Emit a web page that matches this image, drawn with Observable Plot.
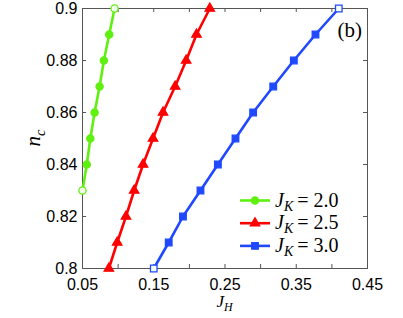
<!DOCTYPE html>
<html><head><meta charset="utf-8">
<script src="https://cdn.jsdelivr.net/npm/d3@7"></script>
<script src="https://cdn.jsdelivr.net/npm/@observablehq/plot@0.6"></script>
<style>body{margin:0;background:#fff} svg{display:block}</style>
</head><body><div id="chart"></div>
<script>
const seriesNames = ["2.0", "2.5", "3.0"];
const seriesColors = ["#5ff00f", "#ff0000", "#1f48ff"];
const seriesSymbols = ["circle", "triangle", "square"];
const nc20 = [0.83, 0.84, 0.85, 0.86, 0.87, 0.88, 0.89, 0.90];
const jh20 = [0.050, 0.056, 0.061, 0.067, 0.074, 0.080, 0.0875, 0.095];
const nc25 = [0.80, 0.81, 0.82, 0.83, 0.84, 0.85, 0.86, 0.87, 0.88, 0.89, 0.90];
const jh25 = [0.087, 0.0987, 0.111, 0.1225, 0.135, 0.149, 0.163, 0.180, 0.1955, 0.210, 0.2287];
const nc30 = [0.80, 0.81, 0.82, 0.83, 0.84, 0.85, 0.86, 0.87, 0.88, 0.89, 0.90];
const jh30 = [0.150, 0.171, 0.191, 0.2156, 0.240, 0.2647, 0.2895, 0.3177, 0.3466, 0.377, 0.4097];
const xTickLabels = [0.05, 0.15, 0.25, 0.35, 0.45];
const xTicks = [0.05, 0.10, 0.15, 0.20, 0.25, 0.30, 0.35, 0.40, 0.45];
const yTicks = [0.80, 0.82, 0.84, 0.86, 0.88, 0.90];
const xLabel = ["J", "H"];
const yLabel = ["n", "c"];
const panelLabel = "(b)";

const rows = [];
[[jh20, nc20], [jh25, nc25], [jh30, nc30]].forEach(([xs, ys], i) => {
  xs.forEach((x, j) => rows.push({jh: x, nc: ys[j], s: seriesNames[i], end: (j === 0 || j === xs.length - 1) && i !== 1}));
});

const W = 403, H = 318, mL = 82, mR = 36, mT = 8, mB = 50;
const innerW = W - mL - mR, innerH = H - mT - mB, tk = 4;
const axisColor = "#555";
const rSizes = {circle: 3.6, triangle: 3.5, square: 3.7};

const marks = [
  Plot.tickX(xTicks, {x: d => d, insetTop: innerH - tk, stroke: axisColor}),
  Plot.tickX(xTicks, {x: d => d, insetBottom: innerH - tk, stroke: axisColor}),
  Plot.tickY(yTicks, {y: d => d, insetRight: innerW - tk, stroke: axisColor}),
  Plot.tickY(yTicks, {y: d => d, insetLeft: innerW - tk, stroke: axisColor}),
  Plot.axisX(xTickLabels, {tickSize: 0, tickPadding: 10, tickFormat: d => String(d), label: null}),
  Plot.axisY(yTicks, {tickSize: 0, tickPadding: 5, tickFormat: d => String(+d.toFixed(2)), label: null}),
  Plot.frame({stroke: axisColor}),
  Plot.line(rows, {x: "jh", y: "nc", z: "s", stroke: d => seriesColors[seriesNames.indexOf(d.s)], strokeWidth: 2.6})
];
seriesNames.forEach((s, i) => {
  marks.push(Plot.dot(rows.filter(d => d.s === s), {
    x: "jh", y: "nc", symbol: seriesSymbols[i], r: rSizes[seriesSymbols[i]],
    fill: d => d.end ? "#f4fff0" : seriesColors[i], stroke: seriesColors[i], strokeWidth: 1.3
  }));
});

const chart = Plot.plot({
  width: W, height: H, marginLeft: mL, marginRight: mR, marginTop: mT, marginBottom: mB,
  style: {fontFamily: "'Liberation Sans', Arial, sans-serif", fontSize: "16px", background: "white", color: "#000"},
  x: {domain: [0.05, 0.45]},
  y: {domain: [0.8, 0.9]},
  marks
});
document.getElementById("chart").appendChild(chart);

const svg = d3.select(chart);
const serif = "'Liberation Serif', 'DejaVu Serif', serif";
function subLabel(g, parts, size) {
  const t = g.append("text").attr("font-family", serif).attr("font-size", size).attr("fill", "#000").attr("text-anchor", "middle");
  t.append("tspan").attr("font-style", "italic").text(parts[0]);
  t.append("tspan").attr("font-style", "italic").attr("font-size", size * 0.7).attr("dy", size * 0.25).text(parts[1]);
  return t;
}
// x label
subLabel(svg.append("g").attr("transform", `translate(${mL + innerW / 2},${H - 11})`), xLabel, 17);
// y label
subLabel(svg.append("g").attr("transform", `translate(40,${mT + innerH / 2}) rotate(-90)`), yLabel, 21);
// panel label
svg.append("text").attr("x", W - mR - 5).attr("y", mT + 29).attr("text-anchor", "end")
  .attr("font-family", serif).attr("font-size", 21).text(panelLabel);

// legend
const lg = svg.append("g").attr("transform", `translate(${W - mR - 127},${H - mB - 67.5})`);
seriesNames.forEach((s, i) => {
  const y = i * 22.7;
  lg.append("line").attr("x1", 0).attr("x2", 30).attr("y1", y).attr("y2", y)
    .attr("stroke", seriesColors[i]).attr("stroke-width", 2.6);
  const r = rSizes[seriesSymbols[i]];
  const sym = {circle: d3.symbolCircle, triangle: d3.symbolTriangle, square: d3.symbolSquare}[seriesSymbols[i]];
  lg.append("path").attr("d", d3.symbol(sym, Math.PI * r * r)()).attr("transform", `translate(15,${y})`)
    .attr("fill", seriesColors[i]).attr("stroke", seriesColors[i]).attr("stroke-width", 1.3);
  const t = lg.append("text").attr("x", 35).attr("y", y + 6).attr("text-anchor", "start")
    .attr("font-family", serif).attr("font-size", 20);
  t.append("tspan").attr("font-style", "italic").text("J");
  t.append("tspan").attr("font-style", "italic").attr("font-size", 14).attr("dy", 4).text("K");
  t.append("tspan").attr("dy", -4).attr("dx", 4).text("=");
  t.append("tspan").attr("dx", 5).text(s);
});
</script>
</body></html>
